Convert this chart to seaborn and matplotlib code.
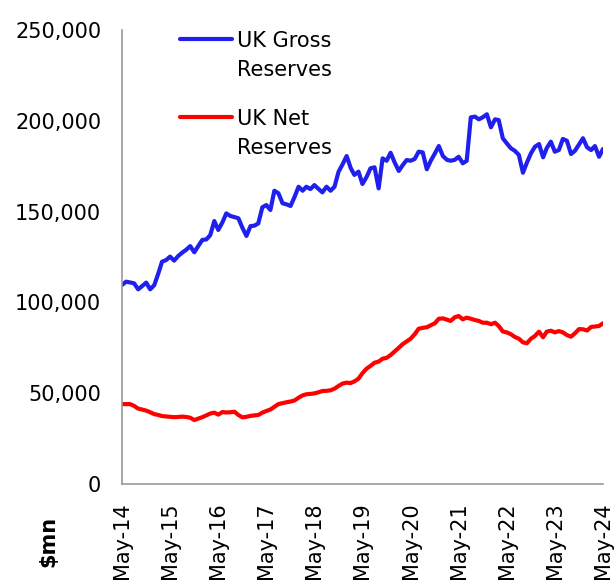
import matplotlib
matplotlib.use("Agg")
import matplotlib.pyplot as plt
import seaborn as sns
import pandas as pd
import numpy as np
from matplotlib.lines import Line2D

# ---- data ($mn, monthly May-14 .. May-24) ----
start_month = "2014-05-01"
gross = [
    109600, 111400, 111000, 110500, 107200, 109000, 110900, 107200, 109500, 116000,
    122400, 123300, 125200, 123000, 125500, 127400, 129000, 131000, 127600, 131000,
    134400, 134700, 137000, 144800, 139900, 144000, 149000, 147600, 147000, 146300,
    141000, 136600, 142000, 142300, 143500, 152400, 153600, 150900, 161500, 160100,
    154600, 154000, 153100, 158000, 163700, 161500, 163700, 162400, 164600, 162500,
    160600, 163700, 161500, 163700, 172000, 176000, 180600, 174000, 170200, 172000,
    165200, 169000, 173800, 174400, 162800, 179300, 178000, 182400, 177000, 172400,
    175500, 178400, 178000, 179000, 183000, 182600, 173300, 178000, 182000, 186100,
    180600, 178500, 178000, 178500, 180200, 176600, 178000, 201900, 202300, 200800,
    202000, 203600, 196400, 200800, 200400, 190400, 187600, 184900, 183500, 181200,
    171400, 177000, 182100, 185700, 187200, 179900, 185000, 188500, 183000, 183900,
    190000, 189000, 181700, 183500, 187000, 190400, 185400, 183900, 186100, 180200,
    184500,
]
net = [
    44000, 44000, 44000, 43000, 41500, 41000, 40400, 39500, 38500, 38000,
    37400, 37200, 37000, 36800, 36900, 37100, 36900, 36500, 35200, 36000,
    36800, 37800, 38800, 39300, 38200, 39600, 39400, 39500, 39800, 38000,
    36700, 37000, 37500, 37800, 38000, 39300, 40200, 41000, 42500, 44000,
    44500, 45000, 45400, 46000, 47500, 48800, 49400, 49600, 49900, 50500,
    51200, 51300, 51600, 52500, 54000, 55300, 55800, 55600, 56500, 58000,
    61000, 63500, 65000, 66800, 67400, 69000, 69500, 71000, 73000, 75000,
    77000, 78500, 80000, 82500, 85500, 86000, 86300, 87400, 88500, 91000,
    91200, 90500, 89800, 91800, 92500, 90700, 91600, 91000, 90300, 89800,
    88800, 88800, 88000, 88800, 87000, 84000, 83500, 82500, 81000, 80000,
    78000, 77500, 80000, 81500, 83900, 80800, 83900, 84400, 83500, 84200,
    83500, 82000, 81100, 83000, 85300, 85200, 84500, 86500, 86700, 87000,
    88500,
]
series_names = ["UK Gross\nReserves", "UK Net\nReserves"]
series_colors = ["#2020EE", "#FF0000"]
xtick_labels = ["May-14", "May-15", "May-16", "May-17", "May-18", "May-19",
                "May-20", "May-21", "May-22", "May-23", "May-24"]
ytick_values = [0, 50000, 100000, 150000, 200000, 250000]
y_label = "$mn"

dates = pd.date_range(start_month, periods=len(gross), freq="MS")
df = pd.concat([
    pd.DataFrame({"date": dates, "value": gross, "series": series_names[0]}),
    pd.DataFrame({"date": dates, "value": net, "series": series_names[1]}),
])

sns.set_style("white")
plt.rcParams["font.family"] = ["DejaVu Sans"]
plt.rcParams["text.color"] = "black"
plt.rcParams["xtick.labelcolor"] = "black"
plt.rcParams["ytick.labelcolor"] = "black"

fig = plt.figure(figsize=(6.15, 5.8), dpi=100)
ax = fig.add_axes([122/615, 1-484/580, (603-122)/615, (484-30)/580])

sns.lineplot(data=df, x="date", y="value", hue="series",
             palette=dict(zip(series_names, series_colors)),
             linewidth=3.0, ax=ax, legend=False)

tick_dates = [d for d in dates if d.month == 5]
ax.set_xticks(tick_dates)
ax.set_xticklabels(xtick_labels, rotation=90, fontsize=15)
ax.set_xlim(dates[0], dates[-1])
ax.set_ylim(0, 250000)
ax.set_yticks(ytick_values)
ax.set_yticklabels([f"{v:,.0f}" for v in ytick_values], fontsize=15)
ax.set_xlabel("")
ax.set_ylabel("")

for s in ["top", "right"]:
    ax.spines[s].set_visible(False)
for s in ["left", "bottom"]:
    ax.spines[s].set_color("#999999")
    ax.spines[s].set_linewidth(1.2)
ax.tick_params(axis="both", which="major", direction="out", length=5,
               width=1.2, color="#999999", labelcolor="black")
ax.tick_params(axis="y", pad=10)
ax.tick_params(axis="x", pad=8)

handles = [Line2D([], [], color=c, linewidth=3.0) for c in series_colors]
leg = ax.legend(handles, series_names, loc="upper left",
                bbox_to_anchor=(180/615, 1-31/580), bbox_transform=fig.transFigure,
                frameon=False, fontsize=15, handlelength=2.5, handletextpad=0.25,
                handleheight=0.9, labelspacing=1.4, borderaxespad=0, borderpad=0,
                labelcolor="black")
for t in leg.get_texts():
    t.set_linespacing(1.55)
# put each handle level with the first line of its label
try:
    for col in leg._legend_handle_box.get_children():
        for item in col.get_children():
            item.align = "top"
except Exception:
    pass

fig.text(48/615, 1-541/580, y_label, rotation=90, fontsize=15, fontweight="bold",
         ha="center", va="center", color="black")

fig.savefig("out.png", dpi=100)
